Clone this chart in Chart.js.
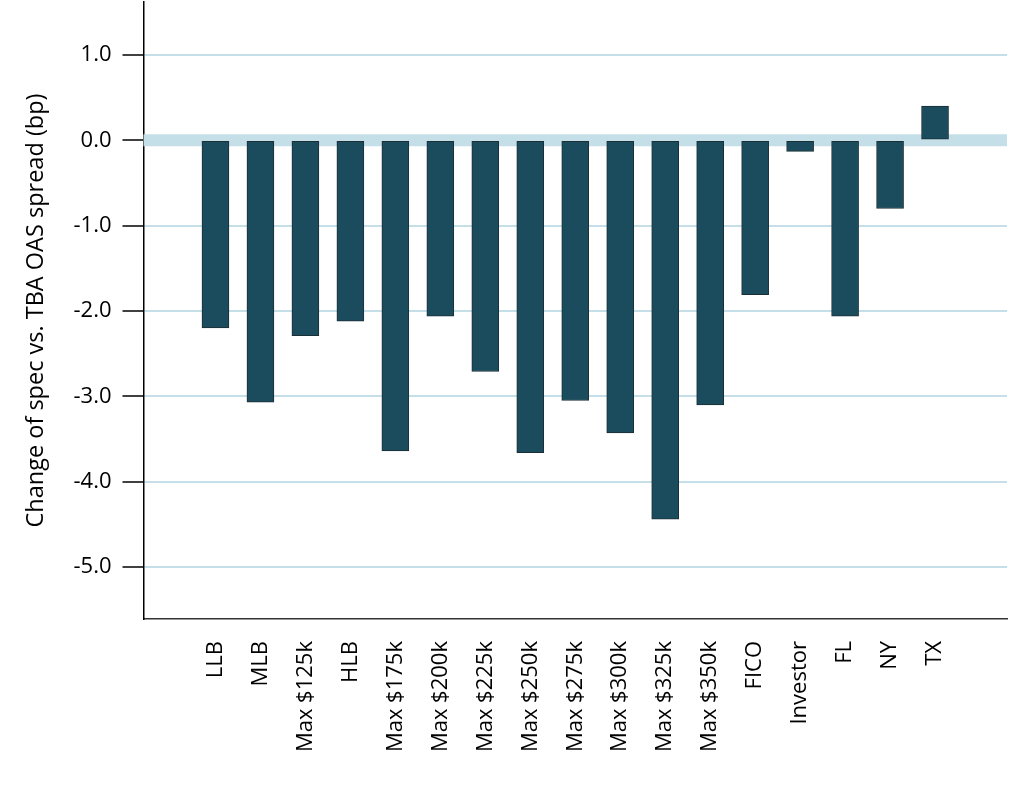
<!DOCTYPE html>
<html>
<head>
<meta charset="utf-8">
<script src="https://cdn.jsdelivr.net/npm/chart.js@4"></script>
<style>
  body { margin: 0; background: #fff; }
</style>
</head>
<body>
<canvas id="graph" width="1024" height="800"></canvas>
<script>
const categories = ["LLB", "MLB", "Max $125k", "HLB", "Max $175k", "Max $200k", "Max $225k",
   "Max $250k", "Max $275k", "Max $300k", "Max $325k", "Max $350k", "FICO", "Investor",
   "FL", "NY", "TX"];
const spreadChange = [-2.20, -3.07, -2.29, -2.12, -3.64, -2.06, -2.71, -3.66, -3.05, -3.43,
   -4.44, -3.10, -1.81, -0.13, -2.06, -0.80, 0.40];
const yTicks = [-5, -4, -3, -2, -1, 0, 1];

const canvasCtx = document.getElementById("graph").getContext("2d");
const font = { family: "'Open Sans', sans-serif", size: 22 };
const gridColor = "#c5dfe8";

// thick band on the zero line, under the bars (a wide gridline would push the bars off it)
const zeroBand =
{
   id: "zeroBand",
   beforeDatasetsDraw(chart)
   {
      const { ctx, chartArea, scales } = chart;
      const y = scales.y.getPixelForValue(0);
      ctx.save();
      ctx.fillStyle = gridColor;
      ctx.fillRect(chartArea.left, y - 6, chartArea.right - chartArea.left, 12);
      ctx.restore();
   }
};

new Chart(canvasCtx,
{
   type: "bar",
   data:
   {
      datasets:
      [{
         data: categories.map((c, i) => ({ x: i, y: spreadChange[i] })),
         backgroundColor: "#1b4c5e",
         borderColor: "#1c2e35",
         borderWidth: 1,
         borderSkipped: false,
         barThickness: 27
      }]
   },
   plugins: [zeroBand],
   options:
   {
      animation: false,
      responsive: false,
      layout: { padding: { top: 2, right: 17, left: 0, bottom: 0 } },
      plugins:
      {
         legend: { display: false },
         tooltip: { enabled: false }
      },
      scales:
      {
         x:
         {
            type: "linear",
            offset: false,
            min: -1.6,
            max: 17.6,
            afterBuildTicks: scale => { scale.ticks = categories.map((c, i) => ({ value: i })); },
            afterFit: scale =>
            {
               scale.height = 181;
               scale.paddingLeft = 0;
               scale.paddingRight = 0;
            },
            grid: { display: false },
            border: { color: "#333", width: 1.5 },
            ticks:
            {
               autoSkip: false,
               minRotation: 90,
               maxRotation: 90,
               padding: 14,
               color: "#000",
               font: font,
               callback: value => categories[value] ?? ""
            }
         },
         y:
         {
            min: -5.61,
            max: 1.62,
            afterBuildTicks: scale => { scale.ticks = yTicks.map(v => ({ value: v })); },
            afterFit: scale =>
            {
               scale.width = 143.5;
               scale.paddingTop = 0;
               scale.paddingBottom = 0;
            },
            border: { color: "#000", width: 1.5 },
            grid:
            {
               color: gridColor,
               lineWidth: 2,
               tickColor: "#000",
               tickWidth: 1.5,
               tickLength: 21
            },
            ticks:
            {
               padding: 11,
               color: "#000",
               font: font,
               callback: value => value.toFixed(1)
            },
            title:
            {
               display: true,
               text: "Change of spec vs. TBA OAS spread (bp)",
               color: "#000",
               font: { family: "'Open Sans', sans-serif", size: 23.5 },
               padding: { top: 22, bottom: 0 }
            }
         }
      }
   }
});
</script>
</body>
</html>
